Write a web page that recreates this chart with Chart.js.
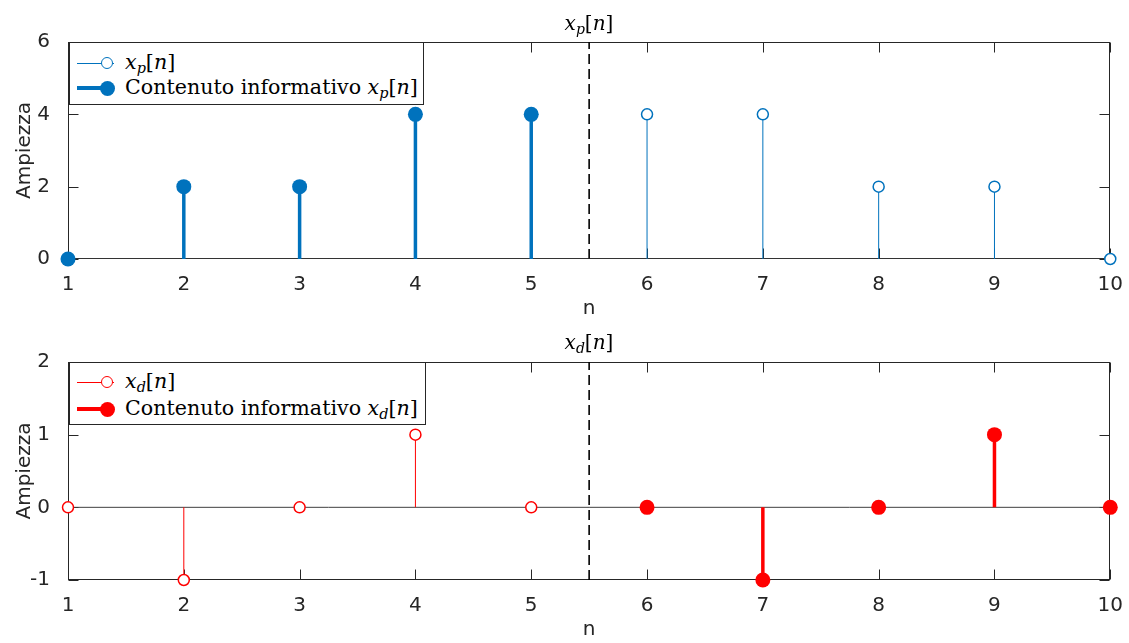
<!DOCTYPE html>
<html>
<head>
<meta charset="utf-8">
<script src="https://cdn.jsdelivr.net/npm/chart.js@4.4.0/dist/chart.umd.min.js"></script>
<style>
    body { margin: 0; background: #fff; }
    #wrap { position: relative; width: 1129px; height: 643px; overflow: hidden; }
    canvas { position: absolute; left: 0; }
    .ttl { position: absolute; font-family: "DejaVu Serif"; font-size: 20px; color: #000; transform: translateX(-50%); white-space: nowrap; line-height: 24px; }
    .leg { position: absolute; left: 69px; background: #fff; border: 1px solid #262626; box-sizing: border-box; font-family: "DejaVu Serif"; font-size: 20.6px; color: #000; }
    .row { position: absolute; left: 0; width: 100%; height: 0; }
    .smp { position: absolute; left: 7px; width: 37px; }
    .dot { position: absolute; border-radius: 50%; box-sizing: border-box; }
    .txt { position: absolute; left: 55px; top: -14px; white-space: nowrap; line-height: 26px; }
    .m, sub { font-style: italic; }
    sub { font-size: 70%; vertical-align: -0.25em; line-height: 0; }
</style>
</head>
<body>
<div id="wrap">
    <canvas id="topChart" width="1129" height="322" style="top:0"></canvas>
    <canvas id="bottomChart" width="1129" height="321" style="top:322px"></canvas>

    <div class="ttl" style="left:589px; top:11px"><span class="m">x</span><sub>p</sub>[<span class="m">n</span>]</div>
    <div class="ttl" style="left:589px; top:330px"><span class="m">x</span><sub>d</sub>[<span class="m">n</span>]</div>

    <div class="leg" style="top:42px; width:355px; height:63px">
        <div class="row" style="top:20px">
            <div class="smp" style="top:-0.5px; height:1px; background:#0072BD"></div>
            <div class="dot" style="left:31px; top:-6px; width:12px; height:12px; border:1.5px solid #0072BD; background:#fff"></div>
            <div class="txt"><span class="m">x</span><sub>p</sub>[<span class="m">n</span>]</div>
        </div>
        <div class="row" style="top:45px">
            <div class="smp" style="top:-2px; height:4px; background:#0072BD"></div>
            <div class="dot" style="left:30px; top:-7.5px; width:15px; height:15px; background:#0072BD"></div>
            <div class="txt">Contenuto informativo <span class="m">x</span><sub>p</sub>[<span class="m">n</span>]</div>
        </div>
    </div>

    <div class="leg" style="top:362px; width:357px; height:63px">
        <div class="row" style="top:19px">
            <div class="smp" style="top:-0.5px; height:1px; background:#FF0000"></div>
            <div class="dot" style="left:31px; top:-6px; width:12px; height:12px; border:1.5px solid #FF0000; background:#fff"></div>
            <div class="txt"><span class="m">x</span><sub>d</sub>[<span class="m">n</span>]</div>
        </div>
        <div class="row" style="top:46px">
            <div class="smp" style="top:-2px; height:4px; background:#FF0000"></div>
            <div class="dot" style="left:30px; top:-7.5px; width:15px; height:15px; background:#FF0000"></div>
            <div class="txt">Contenuto informativo <span class="m">x</span><sub>d</sub>[<span class="m">n</span>]</div>
        </div>
    </div>
</div>

<script>
// data
var nValues = [1, 2, 3, 4, 5, 6, 7, 8, 9, 10];
var xpValues = [0, 2, 2, 4, 4, 4, 4, 2, 2, 0];
var xdValues = [0, -1, 0, 1, 0, 0, -1, 0, 1, 0];
var xpInfoN = [1, 2, 3, 4, 5];      // contenuto informativo di x_p
var xdInfoN = [6, 7, 8, 9, 10];     // contenuto informativo di x_d
var topTicks = [0, 2, 4, 6];
var bottomTicks = [-1, 0, 1, 2];
var splitN = 5.5;

var axisColor = "#262626";
var tickFont = { family: "DejaVu Sans", size: 20 };

//box + inward ticks like matlab
var boxPlugin = {
    id: "box",
    beforeDatasetsDraw: function (chart) {
        var ctx = chart.ctx;
        var a = chart.chartArea;
        var x = chart.scales.x, y = chart.scales.y;
        var L = Math.round(a.left) + 0.5, R = Math.round(a.right) - 0.5;
        var T = Math.round(a.top) + 0.5, B = Math.round(a.bottom) - 0.5;
        ctx.save();
        ctx.strokeStyle = axisColor;
        ctx.lineWidth = 1;
        ctx.strokeRect(L, T, R - L, B - T);
        ctx.beginPath();
        x.ticks.forEach(function (t) {
            var px = Math.round(x.getPixelForValue(t.value)) + 0.5;
            ctx.moveTo(px, B); ctx.lineTo(px, B - 10);
            ctx.moveTo(px, T); ctx.lineTo(px, T + 10);
        });
        y.ticks.forEach(function (t) {
            var py = Math.round(y.getPixelForValue(t.value)) + 0.5;
            ctx.moveTo(L, py); ctx.lineTo(L + 10, py);
            ctx.moveTo(R, py); ctx.lineTo(R - 10, py);
        });
        ctx.stroke();
        ctx.restore();
    }
};

function makeStemChart(canvasId, values, infoN, color, yTicks, padTop) {
    var thin = [], thick = [];
    nValues.forEach(function (n, i) {
        var p = { x: n, y: values[i] };
        if (infoN.indexOf(n) >= 0) thick.push(p); else thin.push(p);
    });
    var yMin = yTicks[0], yMax = yTicks[yTicks.length - 1];

    return new Chart(document.getElementById(canvasId).getContext("2d"), {
        type: "bar",
        data: {
            datasets: [
                { type: "scatter", data: thin, pointRadius: 5.5, pointBorderWidth: 1.5, pointBorderColor: color, pointBackgroundColor: "#fff", clip: false, order: 0 },
                { type: "scatter", data: thick, pointRadius: 7.5, pointBorderWidth: 0, pointBackgroundColor: color, clip: false, order: 0 },
                { type: "bar", data: thin, backgroundColor: color, grouped: false, maxBarThickness: 1, borderWidth: 0, order: 1 },
                { type: "bar", data: thick, backgroundColor: color, grouped: false, maxBarThickness: 3.5, borderWidth: 0, order: 1 },
                { type: "line", data: [{ x: nValues[0], y: 0 }, { x: nValues[nValues.length - 1], y: 0 }], borderColor: "#404040", borderWidth: 1, pointRadius: 0, order: 2 },
                { type: "line", data: [{ x: splitN, y: yMin }, { x: splitN, y: yMax }], borderColor: "#000", borderWidth: 1.6, borderDash: [10, 5], pointRadius: 0, order: 2 }
            ]
        },
        options: {
            responsive: false,
            animation: false,
            devicePixelRatio: 1,
            layout: { padding: { top: padTop, right: 14, left: 0, bottom: 0 } },
            plugins: { legend: { display: false }, tooltip: { enabled: false } },
            scales: {
                x: {
                    type: "linear",
                    min: nValues[0],
                    max: nValues[nValues.length - 1],
                    offset: false,
                    afterBuildTicks: function (s) { s.ticks = nValues.map(function (v) { return { value: v }; }); },
                    afterFit: function (s) { s.height = 63; },
                    grid: { display: false },
                    border: { display: false },
                    ticks: { font: tickFont, color: axisColor, padding: 6, autoSkip: false, maxRotation: 0 },
                    title: { display: true, text: "n", font: tickFont, color: axisColor, padding: { top: 0, bottom: 1 } }
                },
                y: {
                    min: yMin,
                    max: yMax,
                    afterBuildTicks: function (s) { s.ticks = yTicks.map(function (v) { return { value: v }; }); },
                    afterFit: function (s) { s.width = 68; },
                    grid: { display: false },
                    border: { display: false },
                    ticks: { font: tickFont, color: axisColor, padding: 10 },
                    title: { display: true, text: "Ampiezza", font: tickFont, color: axisColor, padding: { top: 13, bottom: 0 } }
                }
            }
        },
        plugins: [boxPlugin]
    });
}

var topChart = makeStemChart("topChart", xpValues, xpInfoN, "#0072BD", topTicks, 42);
var bottomChart = makeStemChart("bottomChart", xdValues, xdInfoN, "#FF0000", bottomTicks, 40);
</script>
</body>
</html>
